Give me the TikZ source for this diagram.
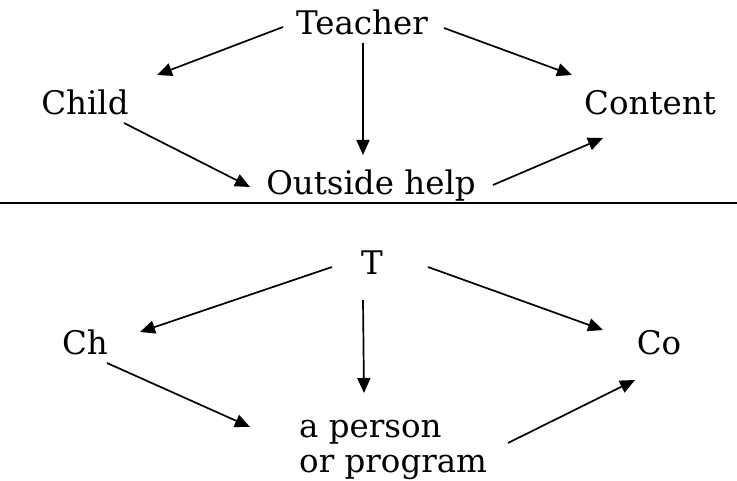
\documentclass[tikz,border=0pt]{standalone}
\usepackage{fontspec}
\setmainfont{DejaVu Serif}
\usetikzlibrary{arrows.meta}
\begin{document}
\begin{tikzpicture}[x=1pt,y=-1pt,
  lbl/.style={inner sep=0pt, font=\fontsize{32.5}{35}\selectfont},
  arr/.style={line width=1.7pt, -{Triangle[length=15pt,width=13pt]}}]
\useasboundingbox (0,0) rectangle (737,481);
% top half
\node[lbl, anchor=base] (teacher) at (362,35) {Teacher};
\node[lbl, anchor=base] (child) at (85,115) {Child};
\node[lbl, anchor=base] (content) at (650,115) {Content};
\node[lbl, anchor=base] (outside) at (371,195) {Outside help};
\draw[arr] ([shift={(-79,-8)}]teacher.base) -- ([shift={(72,-40)}]child.base);
\draw[arr] ([shift={(1,8)}]teacher.base) -- ([shift={(-8,-40)}]outside.base);
\draw[arr] ([shift={(82,-7)}]teacher.base) -- ([shift={(-78,-40)}]content.base);
\draw[arr] ([shift={(39,8)}]child.base) -- ([shift={(-121,-8)}]outside.base);
\draw[arr] ([shift={(122,-10)}]outside.base) -- ([shift={(-47,23)}]content.base);
% divider
\coordinate (divl) at (0,203);
\coordinate (divr) at (737,203);
\draw[line width=1.5pt] (divl) -- (divr);
% bottom half
\node[lbl, anchor=base] (t) at (372,275) {T};
\node[lbl, anchor=base] (ch) at (85,355) {Ch};
\node[lbl, anchor=base] (co) at (659,355) {Co};
\node[lbl, anchor=north west, align=left] (person) at (299,412) {\rule{0pt}{25pt}a person\\or program};
\draw[arr] ([shift={(-40,-8)}]t.base) -- ([shift={(55,-23)}]ch.base);
\draw[arr] ([shift={(-9,25)}]t.base) -- ([shift={(65,-19)}]person.north west);
\draw[arr] ([shift={(56,-8)}]t.base) -- ([shift={(-56,-25)}]co.base);
\draw[arr] ([shift={(22,8)}]ch.base) -- ([shift={(-49,15)}]person.north west);
\draw[arr] ([shift={(209,31)}]person.north west) -- ([shift={(-24,25)}]co.base);
\end{tikzpicture}
\end{document}
